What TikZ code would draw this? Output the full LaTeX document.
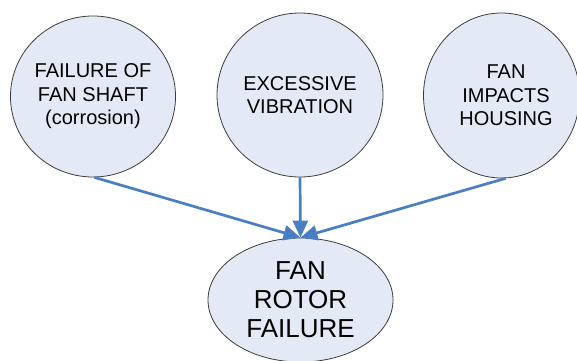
\documentclass[tikz,border=0pt]{standalone}
\usepackage{fontspec}
\setmainfont{Liberation Sans}
\usetikzlibrary{shapes.geometric,arrows.meta}
\definecolor{bubblefill}{HTML}{E4EAF5}
\definecolor{bubbleline}{HTML}{3C3C3C}
\definecolor{linkblue}{HTML}{4A7EC4}
\tikzset{
  cause/.style={ellipse, draw=bubbleline, line width=0.8pt, fill=bubblefill,
    inner sep=0pt, align=center, font=\fontsize{20}{23.5}\selectfont},
  effect/.style={ellipse, draw=bubbleline, line width=0.8pt, fill=bubblefill,
    inner sep=0pt, align=center, font=\fontsize{26}{29}\selectfont},
  link/.style={draw=linkblue, line width=2.7pt,
    -{Triangle[length=17pt,width=15pt]}}
}
\begin{document}
\begin{tikzpicture}[x=1pt,y=1pt]
\useasboundingbox (0,0) rectangle (577,360);
\node[cause, minimum width=161pt, minimum height=161pt] (shaft) at (93,263.5)
  {FAILURE OF\\FAN SHAFT\\(corrosion)};
\node[cause, minimum width=166pt, minimum height=164pt] (vib) at (300,265)
  {EXCESSIVE\\VIBRATION};
\node[cause, minimum width=156pt, minimum height=165pt] (housing) at (501.5,264.5)
  {\hspace*{9pt}FAN\\\hspace*{9pt}IMPACTS\\\hspace*{9pt}HOUSING};
\node[effect, minimum width=185pt, minimum height=124pt] (rotor) at (300.5,60)
  {FAN\\ROTOR\\FAILURE};
\draw[link] (shaft.-89) -- (rotor.north);
\draw[link] (vib.south) -- (rotor.north);
\draw[link] (housing.-87) -- (rotor.north);
\end{tikzpicture}
\end{document}
